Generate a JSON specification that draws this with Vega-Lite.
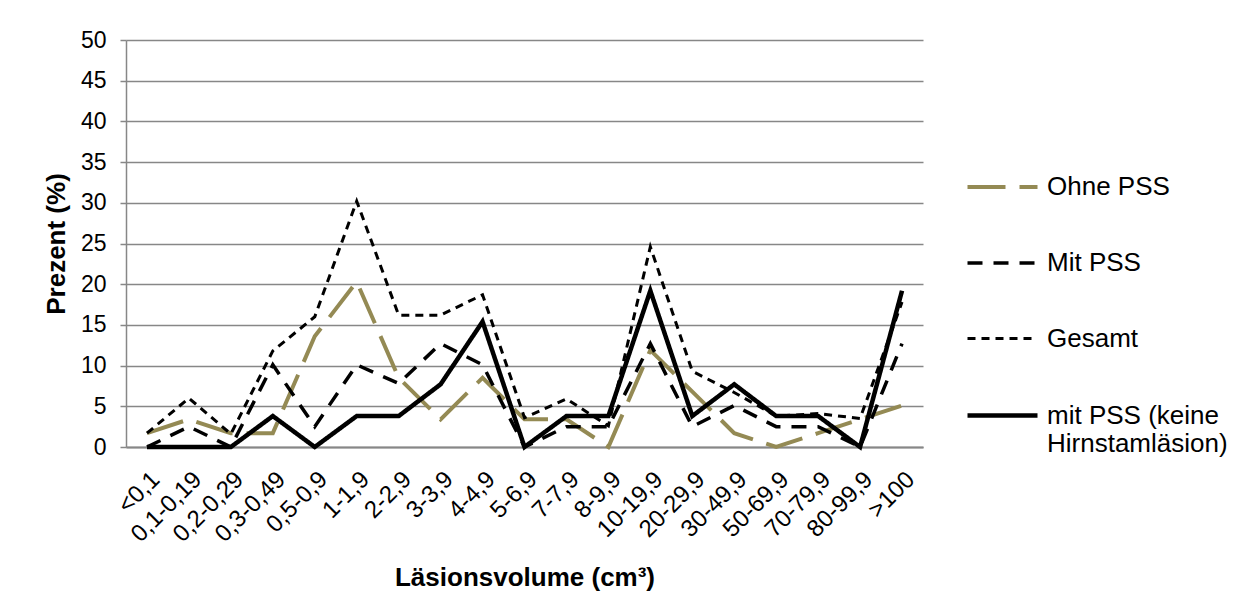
{
  "$schema": "https://vega.github.io/schema/vega-lite/v6.json",
  "width": 797,
  "height": 407,
  "autosize": {"type": "none"},
  "padding": {"left": 126, "top": 40, "right": 327, "bottom": 161},
  "background": "white",
  "config": {
    "font": "Liberation Sans",
    "view": {"stroke": null}
  },
  "data": {
    "values": [
      {"k": "<0,1", "s": "Ohne PSS", "v": 1.7},
      {"k": "0,1-0,19", "s": "Ohne PSS", "v": 3.4},
      {"k": "0,2-0,29", "s": "Ohne PSS", "v": 1.7},
      {"k": "0,3-0,49", "s": "Ohne PSS", "v": 1.7},
      {"k": "0,5-0,9", "s": "Ohne PSS", "v": 13.6},
      {"k": "1-1,9", "s": "Ohne PSS", "v": 20.3},
      {"k": "2-2,9", "s": "Ohne PSS", "v": 8.5},
      {"k": "3-3,9", "s": "Ohne PSS", "v": 3.4},
      {"k": "4-4,9", "s": "Ohne PSS", "v": 8.5},
      {"k": "5-6,9", "s": "Ohne PSS", "v": 3.4},
      {"k": "7-7,9", "s": "Ohne PSS", "v": 3.4},
      {"k": "8-9,9", "s": "Ohne PSS", "v": 0},
      {"k": "10-19,9", "s": "Ohne PSS", "v": 11.9},
      {"k": "20-29,9", "s": "Ohne PSS", "v": 6.8},
      {"k": "30-49,9", "s": "Ohne PSS", "v": 1.7},
      {"k": "50-69,9", "s": "Ohne PSS", "v": 0},
      {"k": "70-79,9", "s": "Ohne PSS", "v": 1.7},
      {"k": "80-99,9", "s": "Ohne PSS", "v": 3.4},
      {"k": ">100", "s": "Ohne PSS", "v": 5.1},

      {"k": "<0,1", "s": "Mit PSS", "v": 0},
      {"k": "0,1-0,19", "s": "Mit PSS", "v": 2.5},
      {"k": "0,2-0,29", "s": "Mit PSS", "v": 0},
      {"k": "0,3-0,49", "s": "Mit PSS", "v": 10.1},
      {"k": "0,5-0,9", "s": "Mit PSS", "v": 2.5},
      {"k": "1-1,9", "s": "Mit PSS", "v": 10.1},
      {"k": "2-2,9", "s": "Mit PSS", "v": 7.8},
      {"k": "3-3,9", "s": "Mit PSS", "v": 12.7},
      {"k": "4-4,9", "s": "Mit PSS", "v": 10.1},
      {"k": "5-6,9", "s": "Mit PSS", "v": 0},
      {"k": "7-7,9", "s": "Mit PSS", "v": 2.5},
      {"k": "8-9,9", "s": "Mit PSS", "v": 2.5},
      {"k": "10-19,9", "s": "Mit PSS", "v": 12.7},
      {"k": "20-29,9", "s": "Mit PSS", "v": 2.5},
      {"k": "30-49,9", "s": "Mit PSS", "v": 5.1},
      {"k": "50-69,9", "s": "Mit PSS", "v": 2.5},
      {"k": "70-79,9", "s": "Mit PSS", "v": 2.5},
      {"k": "80-99,9", "s": "Mit PSS", "v": 0},
      {"k": ">100", "s": "Mit PSS", "v": 12.7},

      {"k": "<0,1", "s": "Gesamt", "v": 1.7},
      {"k": "0,1-0,19", "s": "Gesamt", "v": 6.0},
      {"k": "0,2-0,29", "s": "Gesamt", "v": 1.6},
      {"k": "0,3-0,49", "s": "Gesamt", "v": 11.8},
      {"k": "0,5-0,9", "s": "Gesamt", "v": 16.0},
      {"k": "1-1,9", "s": "Gesamt", "v": 30.2},
      {"k": "2-2,9", "s": "Gesamt", "v": 16.2},
      {"k": "3-3,9", "s": "Gesamt", "v": 16.2},
      {"k": "4-4,9", "s": "Gesamt", "v": 18.7},
      {"k": "5-6,9", "s": "Gesamt", "v": 3.6},
      {"k": "7-7,9", "s": "Gesamt", "v": 5.9},
      {"k": "8-9,9", "s": "Gesamt", "v": 2.6},
      {"k": "10-19,9", "s": "Gesamt", "v": 24.6},
      {"k": "20-29,9", "s": "Gesamt", "v": 9.3},
      {"k": "30-49,9", "s": "Gesamt", "v": 6.7},
      {"k": "50-69,9", "s": "Gesamt", "v": 3.8},
      {"k": "70-79,9", "s": "Gesamt", "v": 4.1},
      {"k": "80-99,9", "s": "Gesamt", "v": 3.5},
      {"k": ">100", "s": "Gesamt", "v": 17.8},

      {"k": "<0,1", "s": "mit PSS (keine Hirnstamläsion)", "v": 0},
      {"k": "0,1-0,19", "s": "mit PSS (keine Hirnstamläsion)", "v": 0},
      {"k": "0,2-0,29", "s": "mit PSS (keine Hirnstamläsion)", "v": 0},
      {"k": "0,3-0,49", "s": "mit PSS (keine Hirnstamläsion)", "v": 3.8},
      {"k": "0,5-0,9", "s": "mit PSS (keine Hirnstamläsion)", "v": 0},
      {"k": "1-1,9", "s": "mit PSS (keine Hirnstamläsion)", "v": 3.8},
      {"k": "2-2,9", "s": "mit PSS (keine Hirnstamläsion)", "v": 3.8},
      {"k": "3-3,9", "s": "mit PSS (keine Hirnstamläsion)", "v": 7.7},
      {"k": "4-4,9", "s": "mit PSS (keine Hirnstamläsion)", "v": 15.4},
      {"k": "5-6,9", "s": "mit PSS (keine Hirnstamläsion)", "v": 0},
      {"k": "7-7,9", "s": "mit PSS (keine Hirnstamläsion)", "v": 3.8},
      {"k": "8-9,9", "s": "mit PSS (keine Hirnstamläsion)", "v": 3.8},
      {"k": "10-19,9", "s": "mit PSS (keine Hirnstamläsion)", "v": 19.2},
      {"k": "20-29,9", "s": "mit PSS (keine Hirnstamläsion)", "v": 3.8},
      {"k": "30-49,9", "s": "mit PSS (keine Hirnstamläsion)", "v": 7.7},
      {"k": "50-69,9", "s": "mit PSS (keine Hirnstamläsion)", "v": 3.8},
      {"k": "70-79,9", "s": "mit PSS (keine Hirnstamläsion)", "v": 3.8},
      {"k": "80-99,9", "s": "mit PSS (keine Hirnstamläsion)", "v": 0},
      {"k": ">100", "s": "mit PSS (keine Hirnstamläsion)", "v": 19.2}
    ]
  },
  "mark": {"type": "line", "strokeCap": "butt", "strokeJoin": "miter"},
  "encoding": {
    "x": {
      "field": "k",
      "type": "ordinal",
      "sort": null,
      "scale": {"type": "point", "padding": 0.5},
      "axis": {
        "title": "Läsionsvolume (cm³)",
        "titleFontSize": 26,
        "titleFontWeight": "bold",
        "titleColor": "black",
        "titlePadding": 18,
        "labelAngle": -45,
        "labelFontSize": 24,
        "labelColor": "black",
        "labelPadding": 20,
        "labelOverlap": false,
        "labelBound": false,
        "labelFlush": false,
        "ticks": false,
        "domainColor": "#878787",
        "domainWidth": 2,
        "grid": false
      }
    },
    "y": {
      "field": "v",
      "type": "quantitative",
      "scale": {"domain": [0, 50], "nice": false},
      "axis": {
        "title": "Prezent (%)",
        "titleFontSize": 26,
        "titleFontWeight": "bold",
        "titleColor": "black",
        "titlePadding": 11,
        "values": [0, 5, 10, 15, 20, 25, 30, 35, 40, 45, 50],
        "labelFontSize": 23,
        "labelColor": "black",
        "labelPadding": 14,
        "tickSize": 6,
        "tickColor": "#878787",
        "tickWidth": 1.5,
        "domainColor": "#878787",
        "domainWidth": 1.5,
        "grid": true,
        "gridColor": "#878787",
        "gridWidth": 1.5
      }
    },
    "color": {
      "field": "s",
      "type": "nominal",
      "scale": {
        "domain": ["Ohne PSS", "Mit PSS", "Gesamt", "mit PSS (keine Hirnstamläsion)"],
        "range": ["#948A54", "#000000", "#000000", "#000000"]
      },
      "legend": {
        "title": null,
        "orient": "none",
        "legendX": 839,
        "legendY": 110,
        "symbolType": "stroke",
        "symbolSize": 4900,
        "labelFontSize": 26,
        "labelColor": "black",
        "labelOffset": 7,
        "rowPadding": 26,
        "labelLimit": 400,
        "labelExpr": "datum.label == 'mit PSS (keine Hirnstamläsion)' ? ['mit PSS (keine', 'Hirnstamläsion)'] : datum.label"
      }
    },
    "strokeDash": {
      "field": "s",
      "type": "nominal",
      "scale": {
        "domain": ["Ohne PSS", "Mit PSS", "Gesamt", "mit PSS (keine Hirnstamläsion)"],
        "range": [[38, 14], [15, 11], [8, 6], [1, 0]]
      },
      "legend": {
        "title": null,
        "orient": "none",
        "legendX": 839,
        "legendY": 110,
        "symbolType": "stroke",
        "symbolSize": 4900,
        "labelFontSize": 26,
        "labelColor": "black",
        "labelOffset": 7,
        "rowPadding": 26,
        "labelLimit": 400,
        "labelExpr": "datum.label == 'mit PSS (keine Hirnstamläsion)' ? ['mit PSS (keine', 'Hirnstamläsion)'] : datum.label"
      }
    },
    "strokeWidth": {
      "field": "s",
      "type": "nominal",
      "scale": {
        "type": "ordinal",
        "domain": ["Ohne PSS", "Mit PSS", "Gesamt", "mit PSS (keine Hirnstamläsion)"],
        "range": [4, 3.5, 3, 4.5]
      },
      "legend": {
        "title": null,
        "orient": "none",
        "legendX": 839,
        "legendY": 110,
        "symbolType": "stroke",
        "symbolSize": 4900,
        "labelFontSize": 26,
        "labelColor": "black",
        "labelOffset": 7,
        "rowPadding": 26,
        "labelLimit": 400,
        "labelExpr": "datum.label == 'mit PSS (keine Hirnstamläsion)' ? ['mit PSS (keine', 'Hirnstamläsion)'] : datum.label"
      }
    }
  }
}
